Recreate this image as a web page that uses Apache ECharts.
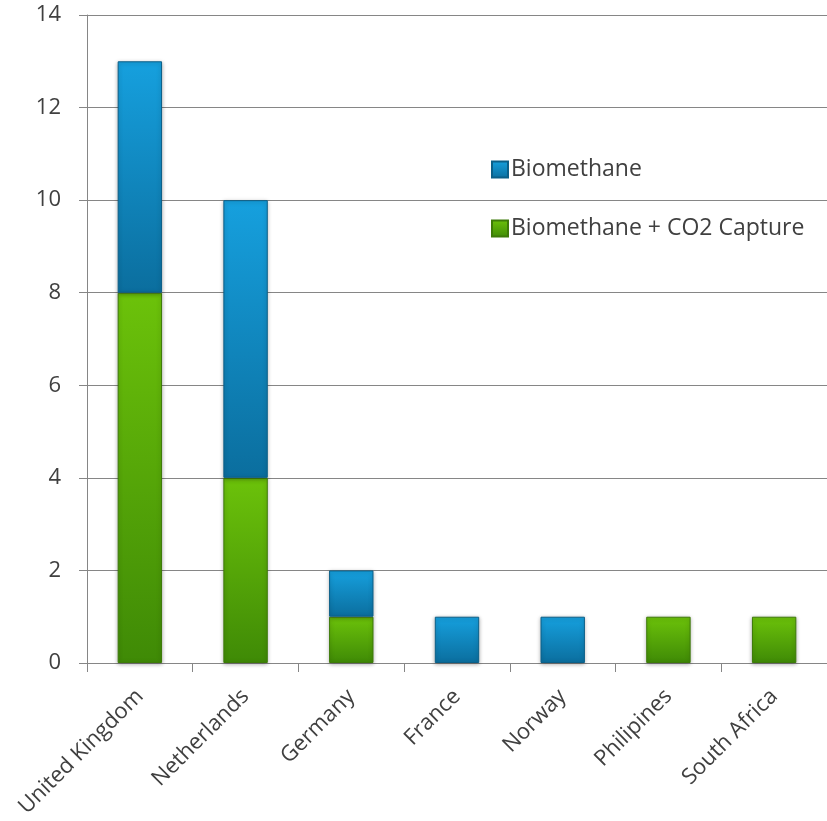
<!DOCTYPE html>
<html><head><meta charset="utf-8">
<script src="https://cdn.jsdelivr.net/npm/echarts@6/dist/echarts.min.js"></script>
<style>html,body{margin:0;padding:0;background:#fff}#c{width:827px;height:821px}</style>
</head><body><div id="c"></div>
<script>
const categories = ['United Kingdom','Netherlands','Germany','France','Norway','Philipines','South Africa'];
const captureValues = [8, 4, 1, 0, 0, 1, 1];
const biomethaneValues = [5, 6, 1, 1, 1, 0, 0];
const yTicks = [0, 2, 4, 6, 8, 10, 12, 14];

const font = 'Open Sans';
const noZero = arr => arr.map(v => v === 0 ? '-' : v);
const grad = (a, b) => new echarts.graphic.LinearGradient(0, 0, 0, 1, [{offset:0,color:a},{offset:1,color:b}]);
const chart = echarts.init(document.getElementById('c'));
chart.setOption({
  animation: false,
  textStyle: {fontFamily: font},
  grid: {left: 87, right: 0, top: 15, bottom: 158},
  legend: {
    orient: 'vertical', left: 486, top: 153, itemGap: 36,
    itemWidth: 16, itemHeight: 16, icon: 'rect',
    data: ['Biomethane', 'Biomethane + CO2 Capture'],
    textStyle: {fontFamily: font, fontSize: 23, color: '#404040', padding: [0,0,0,-2]}
  },
  xAxis: {
    type: 'category', data: categories,
    axisLine: {lineStyle: {color: '#868686'}},
    axisTick: {show: true, length: 9, lineStyle: {color: '#868686'}},
    axisLabel: {rotate: 45, fontSize: 22, color: '#404040', margin: 30, fontFamily: font}
  },
  yAxis: {
    type: 'value', min: yTicks[0], max: yTicks[yTicks.length-1], interval: 2,
    axisLine: {show: true, lineStyle: {color: '#868686'}},
    axisTick: {show: true, inside: false, length: 8, lineStyle: {color: '#868686'}},
    splitLine: {lineStyle: {color: '#868686'}},
    axisLabel: {fontSize: 22, color: '#404040', margin: 26, fontFamily: font}
  },
  series: [
    {name: 'Biomethane + CO2 Capture', type: 'bar', stack: 's', data: noZero(captureValues), barWidth: '42%',
     itemStyle: {color: grad('#6cc20a', '#3f8a06'), borderColor: '#3d7a08', borderWidth: 1,
       shadowColor: 'rgba(0,0,0,0.3)', shadowBlur: 4, shadowOffsetY: 1}},
    {name: 'Biomethane', type: 'bar', stack: 's', data: noZero(biomethaneValues), barWidth: '42%',
     itemStyle: {color: grad('#16a0de', '#0b6e9e'), borderColor: '#0b5f88', borderWidth: 1,
       shadowColor: 'rgba(0,0,0,0.3)', shadowBlur: 4, shadowOffsetY: 1}}
  ]
});
</script></body></html>
